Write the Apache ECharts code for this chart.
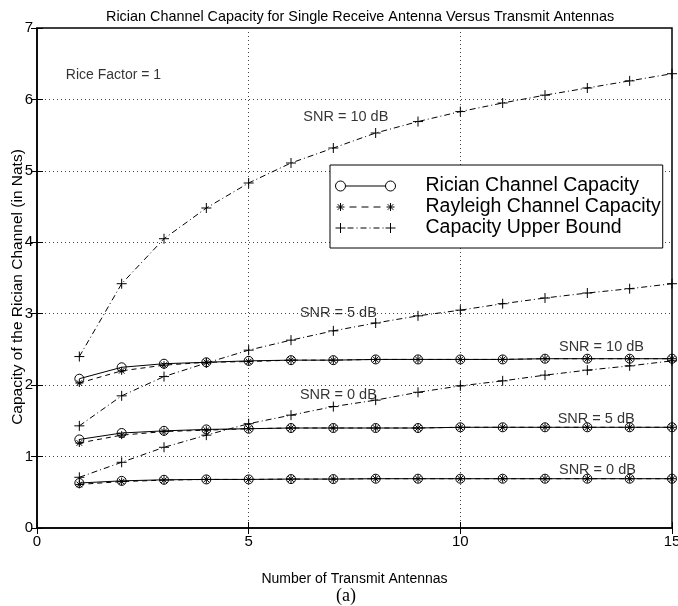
<!DOCTYPE html>
<html>
<head>
<meta charset="utf-8">
<script src="https://cdn.jsdelivr.net/npm/echarts@6/dist/echarts.min.js"></script>
<style>html,body{margin:0;padding:0;background:#fff}#c{width:678px;height:606px}</style>
</head>
<body>
<div id="c"></div>
<script>
var antennas = [1,2,3,4,5,6,7,8,9,10,11,12,13,14,15];
var xTicks = ['0','5','10','15'];
var yTicks = ['0','1','2','3','4','5','6','7'];

var ricianSnr10 = [2.09,2.25,2.30,2.32,2.34,2.35,2.35,2.36,2.36,2.36,2.36,2.37,2.37,2.37,2.37];
var ricianSnr5  = [1.24,1.33,1.36,1.38,1.39,1.40,1.40,1.40,1.40,1.41,1.41,1.41,1.41,1.41,1.41];
var ricianSnr0  = [0.63,0.66,0.675,0.68,0.68,0.685,0.685,0.69,0.69,0.69,0.69,0.69,0.69,0.69,0.69];

var rayleighSnr10 = [2.03,2.20,2.28,2.32,2.33,2.35,2.35,2.36,2.36,2.36,2.36,2.37,2.37,2.37,2.37];
var rayleighSnr5  = [1.19,1.30,1.35,1.37,1.39,1.40,1.40,1.40,1.40,1.41,1.41,1.41,1.41,1.41,1.41];
var rayleighSnr0  = [0.61,0.65,0.67,0.68,0.68,0.685,0.685,0.69,0.69,0.69,0.69,0.69,0.69,0.69,0.69];

var boundSnr10 = [2.40,3.42,4.05,4.48,4.83,5.11,5.32,5.53,5.69,5.83,5.95,6.06,6.16,6.26,6.36];
var boundSnr5  = [1.43,1.85,2.12,2.31,2.49,2.63,2.76,2.87,2.97,3.05,3.14,3.22,3.29,3.35,3.42];
var boundSnr0  = [0.71,0.92,1.13,1.30,1.46,1.58,1.70,1.79,1.90,1.99,2.06,2.14,2.21,2.27,2.34];

var annotations = [
  [0.68, 6.34, 'Rice Factor = 1'],
  [6.29, 5.76, 'SNR = 10 dB'],
  [6.21, 3.01, 'SNR = 5 dB'],
  [6.21, 1.86, 'SNR = 0 dB'],
  [12.33, 2.54, 'SNR = 10 dB'],
  [12.30, 1.53, 'SNR = 5 dB'],
  [12.33, 0.81, 'SNR = 0 dB']
];

var FONT = '"Liberation Sans", Arial, Helvetica, sans-serif';
var NAME_RICIAN = 'Rician Channel Capacity';
var NAME_RAY = 'Rayleigh Channel Capacity';
var NAME_BOUND = 'Capacity Upper Bound';

var SYM_CIRCLE = 'path://M10,5A5,5 0 1 1 0,5A5,5 0 1 1 10,5Z';
var SYM_STAR = 'path://M5,0L5,10M0,5L10,5M1.5,1.5L8.5,8.5M1.5,8.5L8.5,1.5';
var SYM_PLUS = 'path://M5,0L5,10M0,5L10,5';

var ICON_RICIAN = 'path://M0,5A5,5 0 1 1 10,5A5,5 0 1 1 0,5ZM10,5L50,5M50,5A5,5 0 1 1 60,5A5,5 0 1 1 50,5Z';
var ICON_RAY = 'path://M5,1L5,9M1,5L9,5M2.2,2.2L7.8,7.8M2.2,7.8L7.8,2.2M14,5L21,5M26,5L33,5M38,5L45,5M55,1L55,9M51,5L59,5M52.2,2.2L57.8,7.8M52.2,7.8L57.8,2.2M0,0M60,10';
var ICON_BOUND = 'path://M5,0L5,10M0,5L10,5M12,5L18,5M21,5L22,5M25,5L31,5M34,5L35,5M38,5L44,5M47,5L48,5M55,0L55,10M50,5L60,5';

function pairs(vals){ return antennas.map(function(a,i){ return [a, vals[i]]; }); }

function mk(name, vals, sym, size, dash){
  return {
    name: name, type: 'line', data: pairs(vals),
    symbol: sym, symbolSize: size, showSymbol: true,
    lineStyle: {color:'#000', width: 1, type: dash},
    itemStyle: {color: 'rgba(0,0,0,0)', borderColor: '#000', borderWidth: 1},
    emphasis: {disabled: true}, animation: false, z: 3
  };
}

var series = [
  mk(NAME_RICIAN, ricianSnr10, SYM_CIRCLE, 9, 'solid'),
  mk(NAME_RICIAN, ricianSnr5, SYM_CIRCLE, 9, 'solid'),
  mk(NAME_RICIAN, ricianSnr0, SYM_CIRCLE, 9, 'solid'),
  mk(NAME_RAY, rayleighSnr10, SYM_STAR, 8, [5,4]),
  mk(NAME_RAY, rayleighSnr5, SYM_STAR, 8, [5,4]),
  mk(NAME_RAY, rayleighSnr0, SYM_STAR, 8, [5,4]),
  mk(NAME_BOUND, boundSnr10, SYM_PLUS, 10, [6,3,1,3]),
  mk(NAME_BOUND, boundSnr5, SYM_PLUS, 10, [6,3,1,3]),
  mk(NAME_BOUND, boundSnr0, SYM_PLUS, 10, [6,3,1,3]),
  {
    name: 'annot', type: 'scatter', symbolSize: 0, silent: true, z: 5,
    data: annotations.map(function(a){ return {value:[a[0],a[1]], label:{formatter:a[2], fontSize: a[2].indexOf('Rice')===0 ? 14 : 14.5}}; }),
    label: {show: true, position: 'right', distance: 0, color:'#000', fontFamily: FONT},
    animation: false
  }
];

var iconStyle = {color: 'rgba(0,0,0,0)', borderColor: '#000', borderWidth: 1};

var chart = echarts.init(document.getElementById('c'), null, {renderer:'canvas'});
chart.setOption({
  backgroundColor: '#fff',
  animation: false,
  title: {
    text: 'Rician Channel Capacity for Single Receive Antenna Versus Transmit Antennas',
    left: 101, top: 5,
    textStyle: {fontFamily: FONT, fontSize: 14.4, fontWeight: 'normal', color:'#000'}
  },
  legend: {
    data: [
      {name: NAME_RICIAN, icon: ICON_RICIAN, itemStyle: iconStyle},
      {name: NAME_RAY, icon: ICON_RAY, itemStyle: iconStyle},
      {name: NAME_BOUND, icon: ICON_BOUND, itemStyle: iconStyle}
    ],
    orient: 'vertical', left: 330, top: 165,
    itemWidth: 60, itemHeight: 10, itemGap: 1,
    padding: [11, 2, 10, 5],
    borderColor: '#000', borderWidth: 1, backgroundColor: '#fff',
    textStyle: {fontFamily: FONT, fontSize: 19.5, lineHeight: 18, color: '#000', padding: [0,0,0,25]},
    selectedMode: false
  },
  grid: {left: 37, right: 6, top: 28, bottom: 78, outerBoundsMode: 'none', containLabel: false,
    show: true, borderColor:'#000', borderWidth: 1.5},
  xAxis: [{
    type: 'value', min: 0, max: 15, interval: 5,
    name: 'Number of Transmit Antennas', nameLocation: 'middle', nameGap: 44, nameMoveOverlap: false,
    nameTextStyle: {fontFamily: FONT, fontSize: 14, color:'#000'},
    axisLine: {show: true, onZero: false, lineStyle: {color:'#000', width: 1.5}},
    axisTick: {show: true, inside: true, length: 6, lineStyle:{color:'#000'}},
    axisLabel: {fontFamily: FONT, fontSize: 15, color:'#000', margin: 6, hideOverlap: false,
      formatter: function(v){ return xTicks[Math.round(v/5)]; }},
    splitLine: {show: true, lineStyle: {color:'#444', type: [1,3], width: 1}}
  },{
    type: 'value', position: 'top', min: 0, max: 15, interval: 5,
    axisLine: {show: false}, axisLabel: {show: false}, splitLine: {show:false},
    axisTick: {show: true, inside: true, length: 6, lineStyle:{color:'#000'}}
  }],
  yAxis: [{
    type: 'value', min: 0, max: 7, interval: 1,
    name: 'Capacity of the Rician Channel (in Nats)', nameLocation: 'middle', nameGap: 11, nameMoveOverlap: false,
    nameTextStyle: {fontFamily: FONT, fontSize: 15.5, color:'#000', padding: [0,0,0,-18]},
    axisLine: {show: true, onZero: false, lineStyle: {color:'#000', width: 1.5}},
    axisTick: {show: true, inside: true, length: 6, lineStyle:{color:'#000'}},
    axisLabel: {fontFamily: FONT, fontSize: 15, color:'#000', margin: 4,
      formatter: function(v){ return yTicks[Math.round(v)]; }},
    splitLine: {show: true, lineStyle: {color:'#444', type: [1,3], width: 1}}
  },{
    type: 'value', position: 'right', min: 0, max: 7, interval: 1,
    axisLine: {show: false}, axisLabel: {show: false}, splitLine: {show:false},
    axisTick: {show: true, inside: true, length: 6, lineStyle:{color:'#000'}}
  }],
  graphic: [{
    type: 'text', left: 336, top: 587,
    style: {text: '(a)', fontFamily: '"Liberation Serif", "Times New Roman", serif', fontSize: 18, fill:'#000'}
  }],
  series: series
});
</script>
</body>
</html>
